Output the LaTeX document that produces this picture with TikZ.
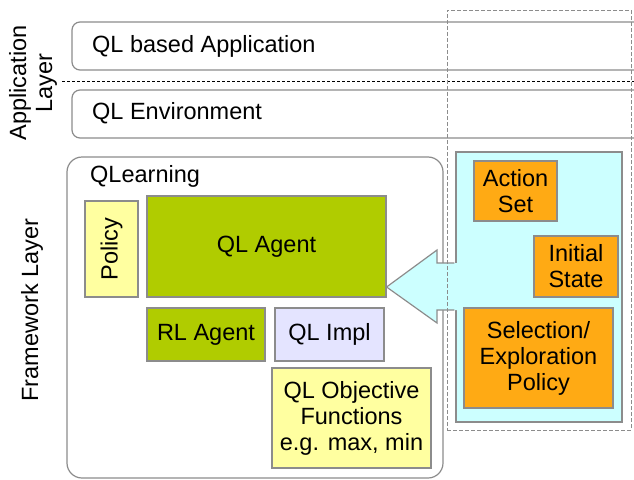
\documentclass[tikz,border=0pt]{standalone}
\usepackage{fontspec}
\setmainfont{Liberation Sans}
\definecolor{bordergray}{RGB}{140,140,140}
\definecolor{qlgreen}{RGB}{176,204,0}
\definecolor{qlyellow}{RGB}{255,255,160}
\definecolor{qllav}{RGB}{228,228,255}
\definecolor{qlcyan}{RGB}{204,255,255}
\definecolor{qlorange}{RGB}{255,170,20}
\begin{document}
\begin{tikzpicture}[x=1pt,y=-1pt,
  box/.style={draw=bordergray, line width=1.2pt, inner sep=0pt, align=center,
    font=\fontsize{23.5}{26}\selectfont},
  lbl/.style={inner sep=0pt, font=\fontsize{23.5}{26}\selectfont, align=center},
]
\clip (0,0) rectangle (634,479);
\fill[white] (0,0) rectangle (634,479);

% application layer
\node[box, rounded corners=8pt, minimum width=573pt, minimum height=48pt] (app) at (358.5,46) {};
\node[lbl, anchor=west] (apptxt) at (92,46) {QL based Application};
\node[box, rounded corners=8pt, minimum width=573pt, minimum height=48pt] (env) at (358.5,114) {};
\node[lbl, anchor=west] (envtxt) at (92,113) {QL Environment};
\coordinate (dl) at (62,81);
\coordinate (dr) at (640,81);
\draw[black, line width=1pt, dash pattern=on 3pt off 2pt] (dl) -- (dr);

\node[lbl, rotate=90] (applayer) at (33,83) {Application\\Layer};
\node[lbl, rotate=90] (fwlayer) at (32,310) {Framework Layer};

% QLearning
\node[box, rounded corners=15pt, minimum width=376pt, minimum height=321pt] (qlearn) at (255,317.5) {};
\node[lbl, anchor=west] (qltxt) at (90,176) {QLearning};
\node[box, fill=qlyellow, minimum width=53pt, minimum height=96pt] (policy) at (111.5,249) {};
\node[lbl, rotate=90] (policytxt) at (policy.center) {Policy};
\node[box, fill=qlgreen, minimum width=239pt, minimum height=101pt] (qlagent) at (266.5,246.5) {QL Agent};
\node[box, fill=qlgreen, minimum width=118pt, minimum height=53pt] (rlagent) at (206,334.5) {RL Agent};
\node[box, fill=qllav, minimum width=109pt, minimum height=53pt] (qlimpl) at (329.5,334.5) {QL Impl};
\node[box, fill=qlyellow, minimum width=159pt, minimum height=100pt] (qlobj) at (351.5,418) {QL Objective\\Functions\\e.g. max, min};

% cyan panel
\node[box, fill=qlcyan, minimum width=166pt, minimum height=270pt] (cyan) at (539,287) {};
\coordinate (a1) at (458,263);
\coordinate (a2) at (437,263);
\coordinate (a3) at (437,250);
\coordinate (a4) at (388,287);
\coordinate (a5) at (437,323);
\coordinate (a6) at (437,310);
\coordinate (a7) at (458,310);
\fill[qlcyan] (a1) -- (a2) -- (a3) -- (a4) -- (a5) -- (a6) -- (a7) -- cycle;
\draw[bordergray, line width=1.2pt, line join=miter] ([xshift=-1pt]cyan.west |- a1) -- (a2) -- (a3) -- (qlagent.east |- a4) -- (a5) -- (a6) -- ([xshift=-1pt]cyan.west |- a7);
\node[box, fill=qlorange, minimum width=83pt, minimum height=60pt] (action) at (515.5,191) {Action\\Set};
\node[box, fill=qlorange, minimum width=84pt, minimum height=61pt] (initial) at (576,266.5) {Initial\\State};
\node[box, fill=qlorange, minimum width=149pt, minimum height=100pt] (select) at (538.5,358) {Selection/\\Exploration\\Policy};

% dashed frame
\node[draw=bordergray, line width=1pt, dash pattern=on 4pt off 2pt, inner sep=0pt,
  minimum width=184pt, minimum height=420pt] (frame) at (539,220) {};
\end{tikzpicture}
\end{document}
